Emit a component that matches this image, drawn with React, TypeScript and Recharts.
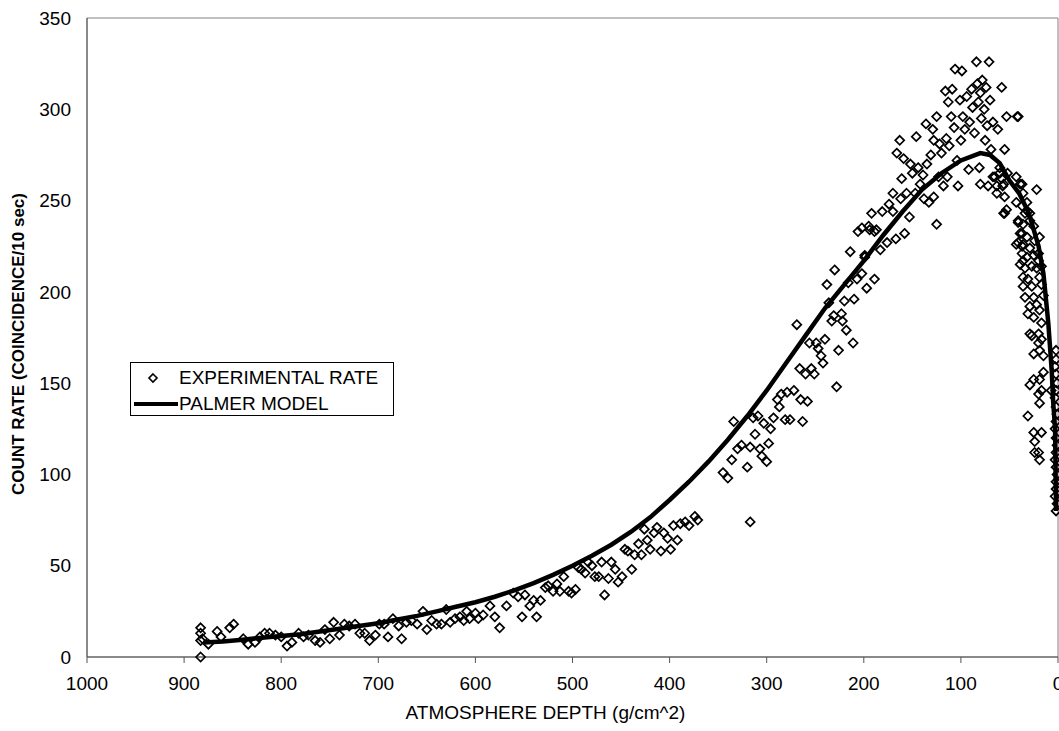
import React from 'react';
import {
  ScatterChart,
  Scatter,
  XAxis,
  YAxis,
  ReferenceArea,
  Legend,
} from 'recharts';

// [depth g/cm^2, count rate]
const deepBand = [
  [883, 16], [883, 13], [883, 9], [881, 10], [883, 0], [875, 7], [866, 14], [862, 11], [853, 16], [849, 18],
  [839, 10], [834, 7], [827, 8], [822, 11], [817, 13], [812, 13], [806, 12], [800, 11], [794, 6], [789, 8],
  [782, 13], [777, 11], [772, 12], [765, 9], [760, 8], [755, 15], [750, 10], [746, 19], [740, 12], [735, 18],
  [730, 17], [724, 18], [719, 13], [714, 13], [709, 9], [703, 12], [699, 18], [694, 18], [690, 11], [685, 21],
  [679, 17], [676, 10], [671, 19], [666, 20], [660, 18], [654, 25], [650, 15], [645, 20], [640, 18], [635, 18],
  [630, 26], [626, 19], [621, 21], [616, 22], [612, 20], [609, 25], [606, 21], [600, 24], [597, 21],
];

const midBand = [
  [592, 23], [585, 28], [580, 22], [575, 16], [568, 28], [561, 35], [556, 33], [552, 22], [549, 34], [544, 28],
  [540, 31], [537, 22], [533, 31], [528, 38], [525, 39], [520, 36], [516, 40], [513, 36], [509, 44], [504, 36],
  [501, 35], [497, 37], [494, 49], [491, 48], [487, 46], [484, 52], [480, 50], [477, 44], [473, 44], [470, 52],
  [467, 34], [463, 43], [460, 52], [456, 48], [453, 41], [449, 44], [446, 59], [443, 58], [439, 48], [436, 56],
  [432, 62], [429, 56], [426, 70], [423, 64], [420, 59], [416, 68], [413, 71], [409, 58], [406, 68], [402, 65],
  [399, 59], [396, 72], [392, 64], [389, 73], [384, 74], [380, 72], [374, 77], [371, 75],
];

const climbBand = [
  [345, 101], [340, 98], [336, 108], [334, 129], [330, 114], [326, 116], [320, 104], [317, 115], [317, 74], [314, 131],
  [312, 122], [309, 132], [307, 114], [305, 110], [303, 128], [300, 107], [298, 117], [296, 125], [293, 131], [289, 141],
  [287, 137], [285, 144], [281, 130], [279, 145], [276, 130], [272, 146], [269, 182], [266, 158], [265, 141], [263, 129],
  [260, 155], [258, 140], [256, 172], [254, 158], [251, 155], [249, 172], [247, 169], [244, 165], [242, 161], [240, 174],
  [238, 204], [236, 194], [233, 184], [231, 187], [230, 212], [228, 148], [226, 168], [223, 188], [222, 184], [220, 195],
  [218, 179], [216, 205], [214, 222], [211, 172], [210, 196], [207, 207], [206, 233], [202, 235], [202, 210], [199, 219],
  [199, 220], [197, 202], [195, 236], [194, 234], [192, 243], [189, 207], [189, 233], [187, 234], [183, 223], [181, 244],
  [176, 227], [174, 248], [170, 254], [170, 244], [167, 229],
];

const peakBand = [
  [166, 276], [163, 283], [162, 251], [161, 262], [159, 273], [158, 232], [156, 254], [153, 241], [152, 270], [150, 265],
  [147, 254], [146, 285], [144, 268], [142, 259], [139, 264], [138, 251], [135, 270], [136, 292], [133, 249], [131, 275],
  [129, 289], [128, 252], [128, 283], [125, 296], [125, 237], [123, 263], [122, 281], [120, 276], [118, 258], [116, 310],
  [115, 284], [114, 263], [113, 304], [112, 280], [110, 296], [109, 311], [106, 322], [107, 290], [104, 272], [103, 258],
  [101, 305], [100, 283], [99, 321], [98, 296], [96, 289], [94, 307], [92, 267], [91, 293], [89, 311], [88, 301],
  [86, 287], [84, 326], [83, 314], [82, 304], [81, 268], [80, 259], [80, 309], [79, 295], [78, 316], [76, 300],
  [75, 283], [74, 312], [73, 291], [72, 258], [71, 326], [70, 305], [69, 278], [67, 293], [67, 263], [65, 263],
  [63, 254], [63, 258], [62, 289], [60, 268], [60, 265], [58, 312], [58, 262], [57, 258], [56, 243], [56, 259],
  [55, 243], [55, 278], [55, 252], [53, 296], [53, 245], [52, 265],
];

const topBand = [
  [43, 263], [43, 249], [43, 226], [42, 296], [41, 296], [41, 239], [41, 238], [41, 227], [39, 259], [39, 232],
  [39, 215], [37, 259], [37, 247], [37, 225], [37, 232], [37, 221], [36, 254], [36, 237], [36, 226], [36, 217],
  [36, 208], [36, 203], [34, 243], [34, 213], [34, 197], [32, 249], [32, 230], [32, 219], [31, 244], [31, 207],
  [31, 188], [31, 132], [29, 243], [29, 239], [29, 224], [29, 192], [29, 177], [29, 149], [27, 214], [27, 203],
  [27, 176], [25, 236], [25, 220], [25, 197], [25, 186], [25, 166], [25, 152], [25, 123], [24, 228], [24, 118],
  [24, 112], [22, 256], [22, 213], [22, 193], [20, 221], [20, 217], [20, 177], [20, 172], [20, 144], [20, 112],
  [19, 230], [19, 208], [19, 190], [19, 168], [19, 152], [19, 139], [19, 108], [17, 214], [17, 204], [17, 183],
  [17, 174], [17, 146], [17, 123], [15, 198], [15, 165], [15, 156], [7, 146],
  [2, 168], [2, 163], [3, 159], [2, 155], [1, 150], [2, 146], [3, 142], [2, 137], [1, 133], [2, 129],
  [3, 125], [2, 120], [1, 116], [2, 112], [3, 108], [2, 104], [1, 100], [2, 96], [2, 92], [3, 88],
  [1, 84], [2, 80],
];

const modelDepth = [
  880, 860, 840, 820, 800, 780, 760, 740, 720, 700, 680, 660, 640, 620, 600, 580, 560, 540, 520, 500,
  480, 460, 440, 420, 400, 380, 360, 340, 320, 300, 280, 260, 240, 220, 200, 180, 160, 140, 120, 100,
  80, 70, 60, 50, 40, 30, 20, 15, 10, 6.5, 5, 3, 2,
];
const modelRate = [
  8, 8.5, 9.5, 10.5, 11.5, 12.5, 14, 15.5, 17, 18.5, 20.5, 22.5, 25, 27.5, 30, 33, 36.5, 40.5, 45, 50,
  55.5, 61.5, 68.5, 76.5, 86, 96, 107, 119, 132, 146, 161, 176, 191, 204, 217, 231, 244, 256, 265, 272,
  276, 275, 270.5, 261, 254, 243, 225, 210, 183, 157, 140, 125, 80,
];

const xTicks = [0, 100, 200, 300, 400, 500, 600, 700, 800, 900, 1000];
const yTicks = [0, 50, 100, 150, 200, 250, 300, 350];

const experimental = [...deepBand, ...midBand, ...climbBand, ...peakBand, ...topBand].map(([depth, rate]) => ({
  depth,
  rate,
}));
const model = modelDepth.map((depth, i) => ({ depth, rate: modelRate[i] }));

const font = '"Liberation Sans", Arial, sans-serif';

const Diamond = (props: any) => {
  const { cx, cy } = props;
  const r = 4.5;
  return (
    <path
      d={`M${cx},${cy - r}L${cx + r},${cy}L${cx},${cy + r}L${cx - r},${cy}Z`}
      fill="none"
      stroke="#000"
      strokeWidth={1.7}
    />
  );
};

const renderLegend = () => (
  <div
    style={{
      border: '1px solid #000',
      background: '#fff',
      width: 264,
      height: 54,
      boxSizing: 'border-box',
      fontFamily: font,
      fontSize: 19,
      color: '#000',
      position: 'relative',
    }}
  >
    <div style={{ position: 'absolute', left: 0, top: 2, height: 26, display: 'flex', alignItems: 'center' }}>
      <svg width={48} height={26}>
        <path d="M22,9L26,13L22,17L18,13Z" fill="none" stroke="#000" strokeWidth={1.6} />
      </svg>
      <span>EXPERIMENTAL RATE</span>
    </div>
    <div style={{ position: 'absolute', left: 0, top: 28, height: 26, display: 'flex', alignItems: 'center' }}>
      <svg width={48} height={26}>
        <line x1={3} y1={13} x2={47} y2={13} stroke="#000" strokeWidth={4} />
      </svg>
      <span>PALMER MODEL</span>
    </div>
  </div>
);

export default function App() {
  return (
    <div style={{ position: 'absolute', left: 0, top: 0, width: 1059, height: 731, overflow: 'hidden', background: '#fff' }}>
      <ScatterChart width={1090} height={731} margin={{ top: 18, right: 32, bottom: 0, left: 0 }}>
        <ReferenceArea x1={0} x2={1000} y1={0} y2={350} fill="none" stroke="#808080" strokeWidth={1} />
        <XAxis
          type="number"
          dataKey="depth"
          domain={[0, 1000]}
          reversed
          ticks={xTicks}
          interval={0}
          height={74}
          tickSize={6}
          tickMargin={14}
          tick={{ fill: '#000', fontSize: 19, fontFamily: font }}
          tickLine={{ stroke: '#555' }}
          axisLine={{ stroke: '#555' }}
          label={{
            value: 'ATMOSPHERE DEPTH (g/cm^2)',
            position: 'insideBottom',
            offset: 12,
            dx: -27,
            fill: '#000',
            fontSize: 19,
            fontFamily: font,
          }}
        />
        <YAxis
          type="number"
          dataKey="rate"
          domain={[0, 350]}
          ticks={yTicks}
          interval={0}
          width={87}
          tickSize={6}
          tickMargin={10}
          tickLine={false}
          tick={{ fill: '#000', fontSize: 19, fontFamily: font }}
          axisLine={{ stroke: '#555' }}
          label={() => (
            <text
              x={18}
              y={344}
              transform="rotate(-90 18 344)"
              textAnchor="middle"
              dominantBaseline="central"
              fontFamily={font}
              fontSize={17}
              fontWeight="bold"
              fill="#000"
            >
              COUNT RATE (COINCIDENCE/10 sec)
            </text>
          )}
        />
        <Scatter
          name="EXPERIMENTAL RATE"
          data={experimental}
          shape={Diamond}
          isAnimationActive={false}
        />
        <Scatter
          name="PALMER MODEL"
          data={model}
          line={{ stroke: '#000', strokeWidth: 4.5 }}
          lineType="joint"
          shape={() => <g />}
          isAnimationActive={false}
        />
        <Legend
          layout="vertical"
          align="center"
          verticalAlign="middle"
          content={renderLegend}
          wrapperStyle={{ left: 130, top: 362, width: 264, height: 54 }}
        />
      </ScatterChart>
    </div>
  );
}
